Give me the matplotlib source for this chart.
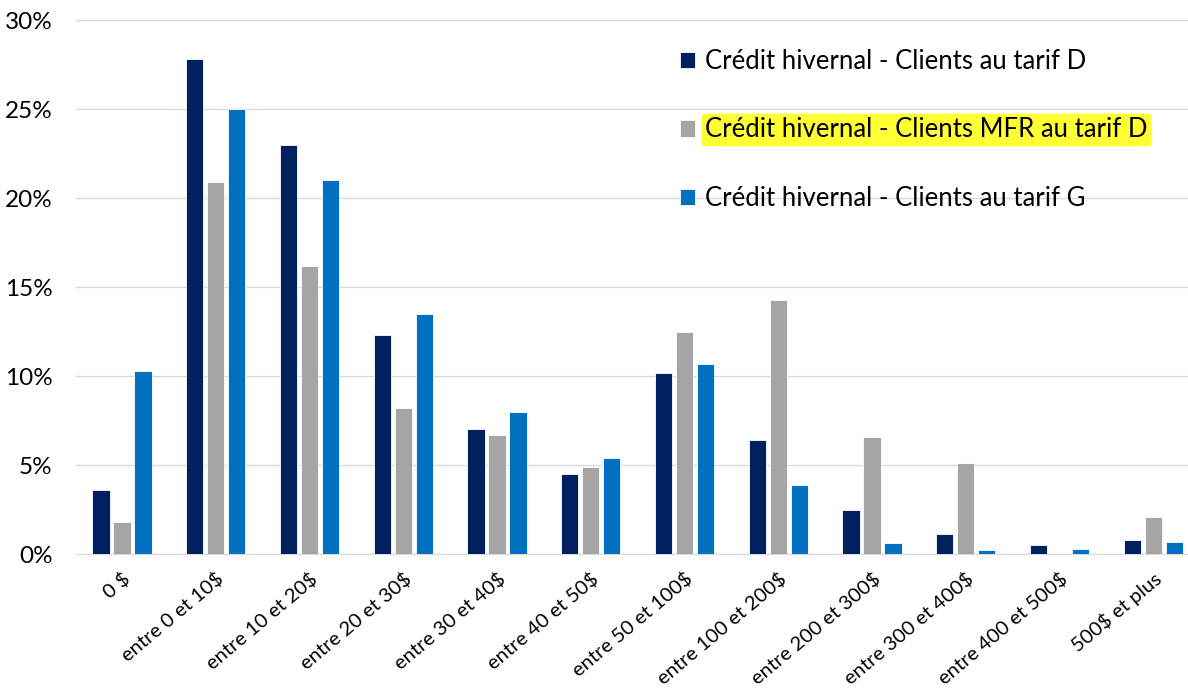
import matplotlib.pyplot as plt
import numpy as np

plt.rcParams['font.family'] = ['Lato', 'DejaVu Sans']

categories = ['0 $', 'entre 0 et 10$', 'entre 10 et 20$', 'entre 20 et 30$', 'entre 30 et 40$',
              'entre 40 et 50$', 'entre 50 et 100$', 'entre 100 et 200$', 'entre 200 et 300$',
              'entre 300 et 400$', 'entre 400 et 500$', '500$ et plus']
tarif_d = [3.6, 27.8, 23.0, 12.3, 7.0, 4.5, 10.2, 6.4, 2.5, 1.1, 0.5, 0.8]
mfr_d = [1.8, 20.9, 16.2, 8.2, 6.7, 4.9, 12.5, 14.3, 6.6, 5.1, 0.0, 2.1]
tarif_g = [10.3, 25.0, 21.0, 13.5, 8.0, 5.4, 10.7, 3.9, 0.6, 0.2, 0.3, 0.7]

labels = ['Crédit hivernal - Clients au tarif D',
          'Crédit hivernal - Clients MFR au tarif D',
          'Crédit hivernal - Clients au tarif G']
colors = ['#002060', '#A5A5A5', '#0070C0']

fig = plt.figure(figsize=(11.88, 6.94), dpi=100)
ax = fig.add_axes([0.064, 0.2017, 0.936, 0.769])

x = np.arange(len(categories))
w = 0.185
step = 0.224
for i, (vals, lab, c) in enumerate(zip([tarif_d, mfr_d, tarif_g], labels, colors)):
    ax.bar(x + (i - 1) * step, vals, width=w, color=c, label=lab,
           edgecolor='white', linewidth=0.6, zorder=3)

ax.set_xlim(-0.49, len(categories) - 0.63)
ax.set_ylim(0, 30)
ax.set_yticks(range(0, 31, 5))
ax.set_yticklabels([f'{v}%' for v in range(0, 31, 5)], fontsize=17.5)
ax.yaxis.grid(True, color='#D9D9D9', linewidth=1, zorder=0)
ax.tick_params(axis='y', length=0, pad=17)
ax.tick_params(axis='x', length=0, pad=11)
ax.set_xticks(x)
ax.set_xticklabels(categories, rotation=40, ha='right', rotation_mode='anchor', fontsize=14.5)

for s in ['top', 'right', 'left']:
    ax.spines[s].set_visible(False)
ax.spines['bottom'].set_color('#D9D9D9')

leg = ax.legend(loc='upper left', bbox_to_anchor=(0.522, 0.99), frameon=False,
                fontsize=18.5, labelspacing=1.7, handlelength=0.6, handleheight=0.6,
                handletextpad=0.4)
leg.get_texts()[1].set_bbox(dict(facecolor='#FFFF33', edgecolor='none',
                                 boxstyle='round,pad=0.15'))

fig.savefig('out.png', dpi=100)
